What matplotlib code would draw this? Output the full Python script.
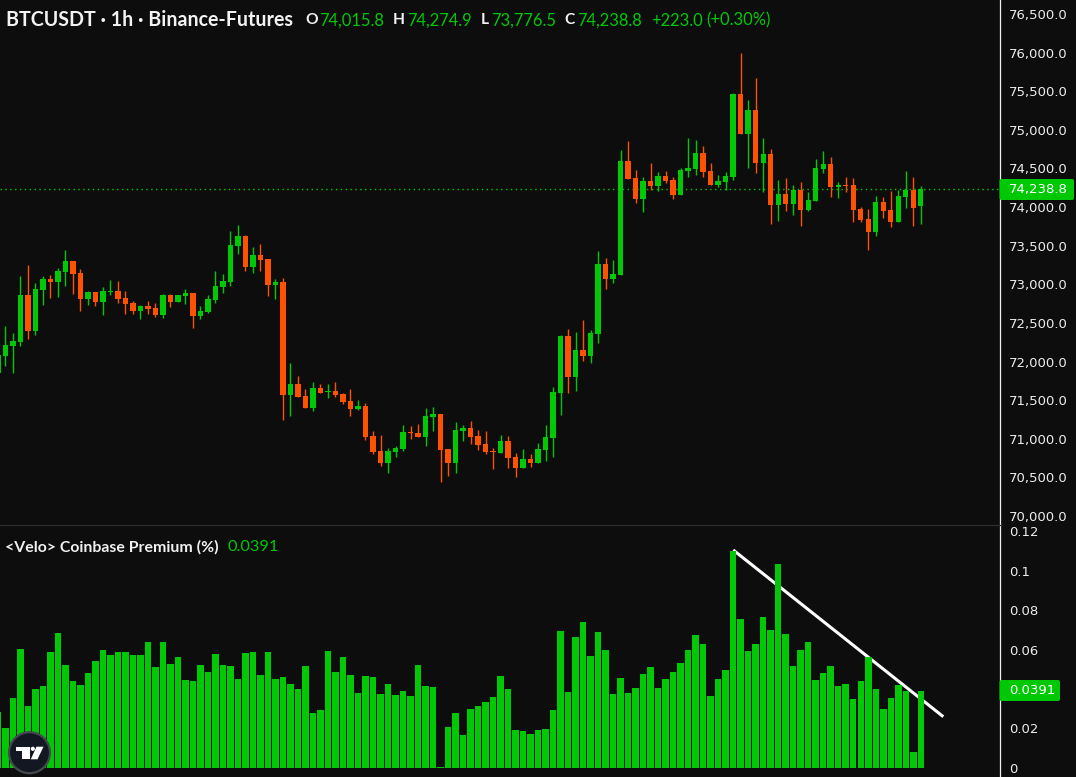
import matplotlib
matplotlib.use('Agg')
import matplotlib.pyplot as plt
import numpy as np
from matplotlib.patches import Circle, FancyBboxPatch, Polygon

W, H = 1076, 777
BG = '#0d0d0d'
GREEN = '#00c805'
RED = '#ff5200'
TXT = '#ececec'

# hourly candles
opens = [71851, 72072, 72201, 72253, 72861, 72395, 72926, 73069, 73030, 73159, 73302, 73146, 72810, 72900, 72771, 72900,
         72913, 72822, 72758, 72654, 72719, 72693, 72602, 72861, 72771, 72848, 72887, 72589, 72641, 72797, 72965, 73030,
         73496, 73625, 73224, 73379, 73327, 72991, 73030, 71566, 71709, 71554, 71398, 71657, 71605, 71618, 71579, 71489,
         71385, 71424, 71036, 70841, 70686, 70829, 70867, 71087, 71075, 71023, 71282, 71320, 70867, 70686, 71100, 71139,
         71036, 70932, 70841, 70816, 70971, 70764, 70622, 70738, 70686, 70854, 71010, 71592, 72331, 71800, 72149, 72072,
         72357, 73263, 73069, 73120, 74596, 74376, 74104, 74337, 74273, 74402, 74350, 74156, 74467, 74493, 74700, 74467,
         74285, 74324, 74389, 75464, 74946, 75257, 74570, 74687, 74027, 74169, 74040, 74221, 73962, 74078, 74493, 74557,
         74260, 74285, 74285, 73975, 73845, 73677, 74065, 73962, 73806, 74130, 74221, 74015.8]
highs = [72084, 72460, 72369, 73107, 73250, 73017, 73107, 73120, 73211, 73444, 73302, 73198, 72913, 72900, 72965, 73056,
         73043, 72913, 72784, 72732, 72784, 72758, 72874, 72874, 72861, 72939, 72887, 72719, 72861, 73172, 73133, 73690,
         73768, 73638, 73483, 73522, 73327, 73069, 73081, 71981, 71813, 71644, 71735, 71709, 71709, 71735, 71592, 71644,
         71502, 71463, 71100, 71049, 70880, 70906, 71178, 71165, 71191, 71398, 71411, 71320, 70867, 71217, 71178, 71230,
         71113, 71100, 70880, 71049, 71036, 70816, 70867, 70803, 70945, 71178, 71670, 72344, 72421, 72382, 72538, 72408,
         73431, 73340, 73315, 74739, 74855, 74480, 74389, 74570, 74454, 74467, 74389, 74506, 74894, 74868, 74791, 74570,
         74415, 74454, 75477, 75995, 75386, 75671, 74894, 74752, 74350, 74376, 74285, 74324, 74195, 74622, 74726, 74648,
         74324, 74389, 74376, 74001, 73975, 74143, 74130, 74208, 74221, 74467, 74389, 74274.9]
lows = [71851, 71942, 71851, 72201, 72292, 72344, 72732, 72822, 72835, 72978, 72874, 72654, 72732, 72719, 72602, 72861,
        72758, 72615, 72615, 72550, 72615, 72576, 72563, 72706, 72771, 72745, 72434, 72550, 72628, 72758, 72887, 72978,
        73392, 73172, 73146, 73172, 72848, 72810, 71243, 71295, 71541, 71398, 71359, 71592, 71528, 71541, 71450, 71295,
        71372, 70984, 70803, 70648, 70557, 70764, 70841, 70997, 71023, 70906, 71100, 70440, 70518, 70557, 70971, 70932,
        70854, 70803, 70609, 70816, 70622, 70505, 70622, 70635, 70686, 70712, 70764, 71308, 71592, 71618, 72007, 71981,
        72240, 72939, 73017, 73120, 74363, 74053, 73936, 74221, 74208, 74311, 74104, 74156, 74389, 74415, 74389, 74285,
        74260, 74221, 74350, 74946, 74506, 74441, 74195, 73781, 73819, 73949, 73897, 73755, 73949, 74078, 74441, 74130,
        74117, 74195, 73806, 73806, 73444, 73625, 73858, 73742, 73806, 73988, 73755, 73776.5]
closes = [72084, 72214, 72266, 72861, 72395, 72939, 73069, 73030, 73172, 73302, 73133, 72810, 72900, 72771, 72913, 72913,
          72810, 72745, 72654, 72719, 72680, 72602, 72861, 72771, 72861, 72887, 72589, 72654, 72810, 72978, 73043, 73509,
          73625, 73224, 73379, 73315, 72991, 73030, 71566, 71709, 71541, 71398, 71657, 71592, 71618, 71566, 71476, 71385,
          71424, 71023, 70829, 70686, 70841, 70880, 71087, 71075, 71023, 71295, 71320, 70854, 70686, 71113, 71139, 71023,
          70919, 70829, 70829, 70971, 70751, 70622, 70738, 70686, 70867, 71023, 71605, 72331, 71800, 72149, 72072, 72369,
          73263, 73069, 73133, 74596, 74363, 74104, 74337, 74273, 74402, 74337, 74156, 74480, 74506, 74700, 74454, 74285,
          74337, 74402, 75464, 74946, 75257, 74570, 74687, 74027, 74169, 74040, 74221, 73962, 74091, 74506, 74557, 74260,
          74285, 74273, 73962, 73832, 73677, 74065, 73949, 73806, 74143, 74221, 73988, 74238.8]

# coinbase premium %, one value per candle
premium = [0.0284, 0.0202, 0.0355, 0.0605, 0.0315, 0.0401, 0.0417, 0.0590, 0.0682, 0.0524, 0.0442, 0.0422, 0.0483,
           0.0544, 0.0600, 0.0570, 0.0590, 0.0590, 0.0570, 0.0570, 0.0641, 0.0514, 0.0636, 0.0529, 0.0560, 0.0447,
           0.0442, 0.0524, 0.0488, 0.0580, 0.0524, 0.0519, 0.0452, 0.0585, 0.0590, 0.0473, 0.0590, 0.0452, 0.0463,
           0.0427, 0.0401, 0.0519, 0.0279, 0.0294, 0.0595, 0.0488, 0.0560, 0.0473, 0.0381, 0.0468, 0.0463, 0.0376,
           0.0427, 0.0371, 0.0391, 0.0366, 0.0524, 0.0417, 0.0412, 0.0003, 0.0207, 0.0279, 0.0167, 0.0299, 0.0315,
           0.0335, 0.0361, 0.0468, 0.0401, 0.0192, 0.0187, 0.0172, 0.0192, 0.0197, 0.0294, 0.0692, 0.0386, 0.0662,
           0.0738, 0.0565, 0.0687, 0.0600, 0.0376, 0.0457, 0.0381, 0.0406, 0.0478, 0.0514, 0.0406, 0.0452, 0.0488,
           0.0534, 0.0600, 0.0672, 0.0626, 0.0366, 0.0452, 0.0498, 0.1100, 0.0753, 0.0595, 0.0626, 0.0764, 0.0702,
           0.1034, 0.0677, 0.0519, 0.0600, 0.0641, 0.0447, 0.0483, 0.0519, 0.0417, 0.0427, 0.0350, 0.0442, 0.0560,
           0.0401, 0.0299, 0.0355, 0.0422, 0.0391, 0.0080, 0.0391]

trend_x = [98, 126]
trend_y = [0.1106, 0.0259]

price_ticks = [70000, 70500, 71000, 71500, 72000, 72500, 73000, 73500, 74000, 74500, 75000, 75500, 76000, 76500]
prem_ticks = [0, 0.02, 0.04, 0.06, 0.08, 0.1, 0.12]
prem_labels = ['0', '0.02', '', '0.06', '0.08', '0.1', '0.12']
last_close = 74238.8
last_prem = 0.0391

fig = plt.figure(figsize=(W / 100, H / 100), dpi=100, facecolor=BG)

ax1 = fig.add_axes([0, 1 - 525 / H, 999.5 / W, 525 / H], facecolor=BG)
ax2 = fig.add_axes([0, 0, 999.5 / W, (H - 525) / H], facecolor=BG)

xs = np.arange(len(opens))
o, h, l, c = map(np.array, (opens, highs, lows, closes))
cols = np.where(c >= o, GREEN, RED)

# candles
ax1.vlines(xs, l, h, colors=cols, lw=1.0, zorder=3)
ax1.bar(xs, np.maximum(np.abs(c - o), 14), bottom=np.minimum(o, c), width=0.72, color=cols, lw=0, zorder=4)
ax1.axhline(last_close, color=GREEN, lw=1.0, ls=(0, (1, 2.5)), zorder=2)

# premium bars, trend line goes under them
ax2.plot(trend_x, trend_y, color='white', lw=2.2, solid_capstyle='butt', zorder=2)
ax2.bar(xs, premium, width=0.865, color=GREEN, lw=0, zorder=3)

for ax in (ax1, ax2):
    ax.set_xlim(0.293, 133.49)
    ax.set_xticks([])
    ax.yaxis.tick_right()
    ax.tick_params(axis='y', length=0, pad=7, labelsize=9.5, labelcolor=TXT)
    for s in ('left', 'top', 'bottom'):
        ax.spines[s].set_visible(False)
    ax.spines['right'].set_color('#f0f0f0')
    ax.spines['right'].set_linewidth(0.9)

# pane separator
ax2.spines['top'].set_visible(True)
ax2.spines['top'].set_color('#2e2e2e')
ax2.spines['top'].set_linewidth(0.9)

ax1.set_ylim(69883, 76681)
ax1.set_yticks(price_ticks)
ax1.set_yticklabels([f'{p:,.1f}' for p in price_ticks])
ax2.set_ylim(-0.00474, 0.1233)
ax2.set_yticks(prem_ticks)
ax2.set_yticklabels(prem_labels)

# overlay in pixels for legend text, price tags and logo
ov = fig.add_axes([0, 0, 1, 1], zorder=10)
ov.set_xlim(0, W)
ov.set_ylim(H, 0)
ov.axis('off')

HEAD = 'Lato'


def put(x, y, s, color=TXT, size=11, weight='normal', fam=HEAD):
    ov.text(x, y, s, color=color, fontsize=size, fontweight=weight, family=fam, ha='left', va='center')


put(6, 20.5, 'BTCUSDT · 1h · Binance-Futures', '#f2f2f2', 14.1, 'bold')
for x, s in [(305, 'O'), (393, 'H'), (481, 'L'), (564, 'C')]:
    put(x, 20.5, s, '#f2f2f2', 11.2, 'bold')
for x, s in [(319, '74,015.8'), (407, '74,274.9'), (491, '73,776.5'), (577, '74,238.8'), (651, '+223.0'), (706, '(+0.30%)')]:
    put(x, 20.5, s, GREEN, 11.9)

put(5, 547, '<Velo> Coinbase Premium (%)', '#f0f0f0', 11.4, 'bold')
put(228, 547, '0.0391', GREEN, 11.8)

# last value tags
ov.add_patch(FancyBboxPatch((999.5, 179), 74.5, 21, boxstyle='round,pad=0,rounding_size=2', fc=GREEN, ec='none'))
ov.text(1009, 189.5, f'{last_close:,.1f}', color='white', fontsize=9.5, va='center', ha='left')
ov.add_patch(FancyBboxPatch((999.5, 680), 60.5, 21, boxstyle='round,pad=0,rounding_size=2', fc=GREEN, ec='none'))
ov.text(1009, 691, f'{last_prem:.4f}', color='white', fontsize=9.5, va='center', ha='left')

# tv logo
ov.add_patch(Circle((29.5, 752.7), 20.5, fc='#131722', ec='#45484f', lw=1.6))
ov.add_patch(Polygon([(16, 746.7), (30, 746.7), (30, 759.3), (22, 759.3), (22, 750.7), (16, 750.7)], fc='white', ec='none'))
ov.add_patch(Circle((32.8, 748.8), 2.1, fc='white', ec='none'))
ov.add_patch(Polygon([(36.5, 746.7), (43.5, 746.7), (37.5, 759.3), (30.8, 759.3)], fc='white', ec='none'))

fig.savefig('out.png', dpi=100, facecolor=BG)
